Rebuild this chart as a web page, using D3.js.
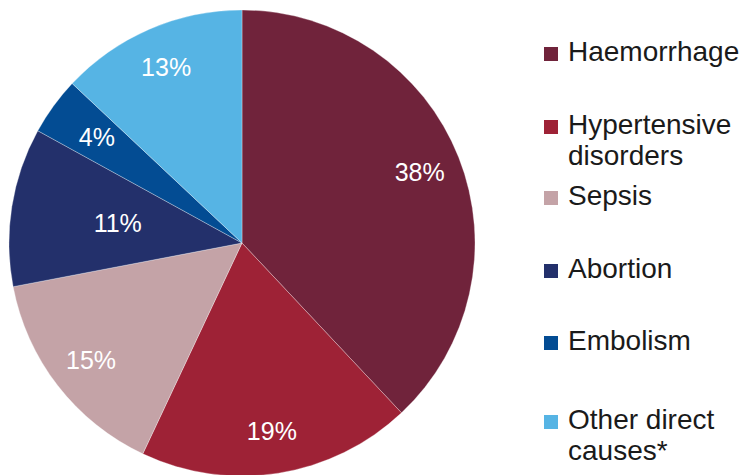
<!DOCTYPE html>
<html>
<head>
<meta charset="utf-8">
<script src="https://cdn.jsdelivr.net/npm/d3@7"></script>
<style>
  body { margin: 0; background: #fff; }
  svg { font-family: "Liberation Sans", Arial, sans-serif; }
</style>
</head>
<body>
<svg id="chart" width="750" height="475" viewBox="0 0 750 475"></svg>
<script>
const causes = ["Haemorrhage", "Hypertensive disorders", "Sepsis", "Abortion", "Embolism", "Other direct causes*"];
const legendLines = [["Haemorrhage"], ["Hypertensive", "disorders"], ["Sepsis"], ["Abortion"], ["Embolism"], ["Other direct", "causes*"]];
const shares = [38, 19, 15, 11, 4, 13];
const colours = ["#70233b", "#9e2236", "#c4a3a7", "#23306b", "#034c93", "#56b4e4"];

const svg = d3.select("#chart");
const cx = 242, cy = 243, radius = 233;

const data = causes.map((c, i) => ({ cause: c, value: shares[i], colour: colours[i], lines: legendLines[i] }));

const pie = d3.pie().value(d => d.value).sort(null);
const arc = d3.arc().innerRadius(0).outerRadius(radius);
const arcs = pie(data);

const main_group = svg.append("g")
    .attr("transform", `translate(${cx},${cy})`);

main_group.selectAll("path")
    .data(arcs)
    .enter()
    .append("path")
    .attr("d", arc)
    .attr("fill", d => d.data.colour)
    .attr("stroke", "#fff")
    .attr("stroke-width", 0.6)
    .attr("stroke-opacity", 0.5);

// label radius as a share of the pie radius; the small Abortion label sits further in
const labelFrac = d => d.data.cause === "Abortion" ? 0.54 : (d.data.cause === "Embolism" ? 0.77 : 0.82);

main_group.selectAll(".lbl")
    .data(arcs)
    .enter()
    .append("text")
    .attr("class", "lbl")
    .attr("transform", d => {
        const r = radius * labelFrac(d);
        const la = d3.arc().innerRadius(r).outerRadius(r);
        const [x, y] = la.centroid(d);
        return `translate(${x},${y})`;
    })
    .attr("text-anchor", "middle")
    .attr("dy", "0.35em")
    .attr("fill", "#fff")
    .style("font-size", "25px")
    .text(d => d.data.value + "%");

// legend
const legend = svg.append("g")
    .attr("transform", "translate(544, 0)");

const itemBase = [61, 134, 205, 278, 350, 429];

data.forEach((d, i) => {
    const item = legend.append("g")
        .attr("transform", `translate(0, ${itemBase[i]})`);

    item.append("rect")
        .attr("x", 0)
        .attr("y", -14)
        .attr("width", 14)
        .attr("height", 14)
        .attr("fill", d.colour);

    const t = item.append("text")
        .attr("y", 0)
        .attr("fill", "#1a1a1a")
        .style("font-size", "28px");
    d.lines.forEach((l, j) => {
        t.append("tspan")
            .attr("x", 24)
            .attr("dy", j === 0 ? 0 : 31)
            .text(l);
    });
});
</script>
</body>
</html>
